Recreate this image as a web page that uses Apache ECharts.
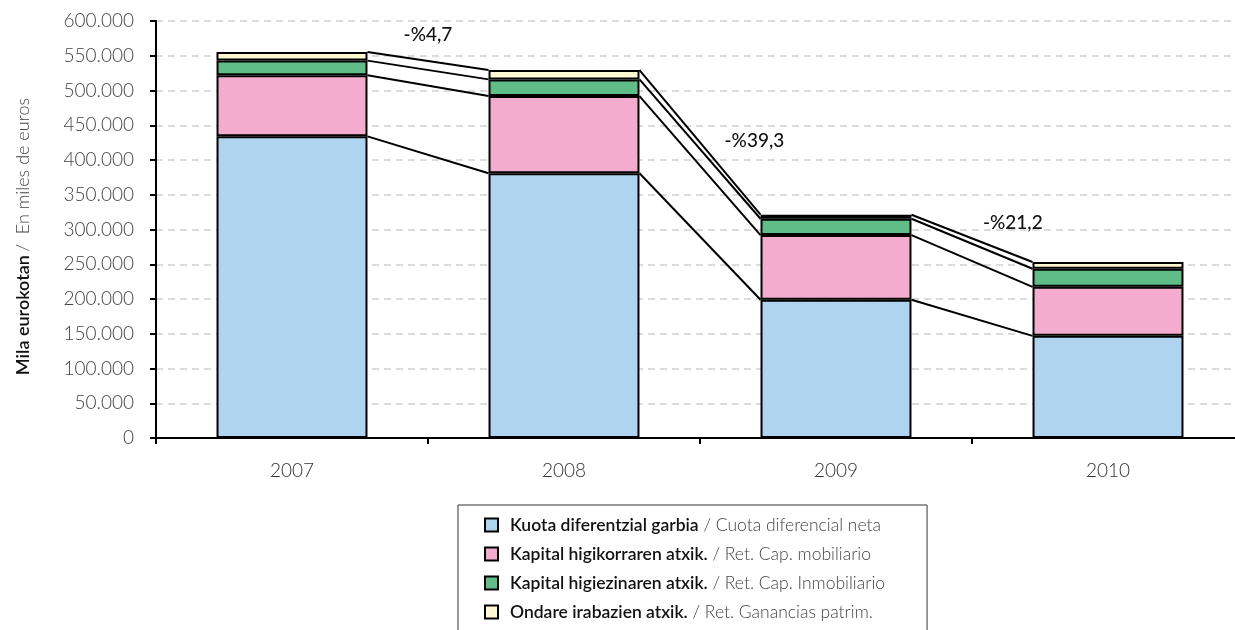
<!DOCTYPE html>
<html>
<head>
<meta charset="utf-8">
<script src="https://cdn.jsdelivr.net/npm/echarts@6/dist/echarts.min.js"></script>
<style>
  html, body { margin: 0; padding: 0; background: #fff; overflow: hidden; }
  #chart { width: 1245px; height: 630px; }
</style>
</head>
<body>
<div id="chart"></div>
<script>
// Years on the category axis
const years = ['2007', '2008', '2009', '2010'];

// Stacked components, thousands of euros
const kuotaDiferentziala = [434000, 381000, 199000, 147000];
const kapitalHigikorra   = [88000, 111000, 93000, 70500];
const kapitalHigiezina   = [21000, 24000, 23500, 26000];
const ondareIrabaziak    = [12500, 13400, 5800, 9700];

// Year-on-year change of the total, percent
const changePct = [-4.7, -39.3, -21.2];

// Y axis ticks
const yTicks = { min: 0, max: 600000, step: 50000 };

// Legend texts: Basque name / Spanish name
const seriesNames = [
  ['Kuota diferentzial garbia', 'Cuota diferencial neta'],
  ['Kapital higikorraren atxik.', 'Ret. Cap. mobiliario'],
  ['Kapital higiezinaren atxik.', 'Ret. Cap. Inmobiliario'],
  ['Ondare irabazien atxik.', 'Ret. Ganancias patrim.']
];
const seriesValues = [kuotaDiferentziala, kapitalHigikorra, kapitalHigiezina, ondareIrabaziak];
const colors = ['#AED4F0', '#F4ACCE', '#5FBE88', '#FFF8D3'];

const FONT = 'Lato, "Noto Sans", sans-serif';
const BAR_FRACTION = 0.555;

// cumulative tops of each stacked layer, per year
const cumulative = [];
seriesValues.forEach((vals, k) => {
  cumulative.push(vals.map((v, i) => v + (k > 0 ? cumulative[k - 1][i] : 0)));
});

const fmtThousands = v => String(v).replace(/\B(?=(\d{3})+(?!\d))/g, '.');
const fmtPct = p => (p < 0 ? '-' : '') + '%' + Math.abs(p).toFixed(1).replace('.', ',');

// where each change label sits: offset right of the earlier bar's centre (in category widths) and height
const changeLabelAnchor = [[0.5, 580000], [0.7, 427000], [0.65, 309000]];

const chart = echarts.init(document.getElementById('chart'), null, { renderer: 'canvas' });

const barSeries = seriesValues.map((vals, k) => ({
  type: 'bar',
  name: seriesNames[k][0],
  stack: 'total',
  barWidth: (BAR_FRACTION * 100) + '%',
  data: vals,
  itemStyle: { color: colors[k], borderColor: '#000', borderWidth: 2 },
  emphasis: { disabled: true },
  z: 3
}));

// connector lines between the tops of matching layers of neighbouring bars
const connectorSeries = {
  type: 'custom',
  silent: true,
  z: 2,
  data: years.slice(0, years.length - 1).map((_, i) => [i]),
  renderItem: function (params, api) {
    const i = params.dataIndex;
    const half = api.size([1, 0])[0] * BAR_FRACTION / 2;
    const children = cumulative.map(level => {
      const a = api.coord([i, level[i]]);
      const b = api.coord([i + 1, level[i + 1]]);
      return {
        type: 'line',
        shape: { x1: a[0] + half, y1: a[1], x2: b[0] - half, y2: b[1] },
        style: { stroke: '#000', lineWidth: 2 }
      };
    });
    return { type: 'group', children: children };
  }
};

// change labels
const changeLabelSeries = {
  type: 'custom',
  silent: true,
  z: 4,
  data: changePct.map((p, i) => [i, changeLabelAnchor[i][1]]),
  renderItem: function (params, api) {
    const i = params.dataIndex;
    const p = api.coord([i, changeLabelAnchor[i][1]]);
    const w = api.size([1, 0])[0];
    return {
      type: 'text',
      style: {
        x: p[0] + changeLabelAnchor[i][0] * w,
        y: p[1],
        text: fmtPct(changePct[i]),
        fill: '#111',
        font: '500 19px ' + FONT,
        align: 'center',
        verticalAlign: 'middle'
      }
    };
  }
};

const option = {
  animation: false,
  backgroundColor: '#fff',
  grid: { left: 156, top: 21, right: 1, height: 417, containLabel: false },
  xAxis: {
    type: 'category',
    data: years,
    axisLine: { lineStyle: { color: '#000', width: 2 } },
    axisTick: { show: true, length: 6, lineStyle: { color: '#000', width: 2 } },
    axisLabel: { color: '#333', fontFamily: FONT, fontWeight: 300, fontSize: 19, margin: 23 },
    splitLine: { show: false }
  },
  yAxis: {
    type: 'value',
    min: yTicks.min,
    max: yTicks.max,
    interval: yTicks.step,
    name: '{b|Mila eurokotan} {l|/  En miles de euros}',
    nameLocation: 'middle',
    nameRotate: 90,
    nameGap: 124,
    nameTextStyle: {
      rich: {
        b: { fontFamily: FONT, fontWeight: 600, fontSize: 18, color: '#111' },
        l: { fontFamily: FONT, fontWeight: 300, fontSize: 18, color: '#444', padding: [0, 14, 0, 0] }
      }
    },
    axisLine: { show: true, lineStyle: { color: '#000', width: 2 } },
    axisTick: { show: true, length: 6, lineStyle: { color: '#000', width: 2 } },
    axisLabel: {
      color: '#444', fontFamily: FONT, fontWeight: 300, fontSize: 19, margin: 22,
      formatter: v => fmtThousands(v)
    },
    splitLine: { show: true, lineStyle: { color: '#dcdcdc', width: 2, type: [7, 5] } }
  },
  legend: {
    orient: 'vertical',
    left: 458,
    top: 505,
    height: 160,
    padding: [11, 42, 20, 26],
    borderColor: '#333',
    borderWidth: 1,
    itemWidth: 13,
    itemHeight: 13,
    itemGap: 11,
    selectedMode: false,
    icon: 'rect',
    align: 'left',
    data: seriesNames.map(n => n[0]),
    formatter: function (name) {
      const pair = seriesNames.find(n => n[0] === name);
      return '{b|' + pair[0] + '}{l| / ' + pair[1] + '}';
    },
    textStyle: {
      rich: {
        b: { fontFamily: FONT, fontWeight: 600, fontSize: 17.5, color: '#111', lineHeight: 18, padding: [0, 0, 0, 7] },
        l: { fontFamily: FONT, fontWeight: 300, fontSize: 17.5, color: '#444', lineHeight: 18 }
      }
    }
  },
  series: barSeries.concat([connectorSeries, changeLabelSeries])
};

chart.setOption(option);
</script>
</body>
</html>
